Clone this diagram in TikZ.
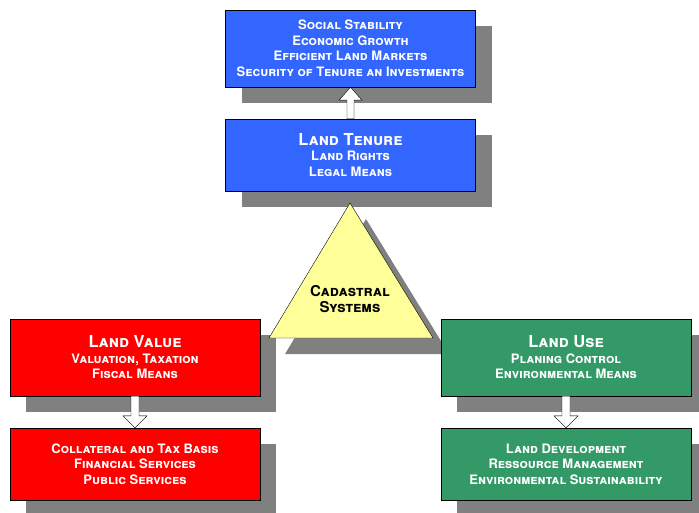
\documentclass[tikz,border=0pt]{standalone}
\usepackage{fontspec}
\setmainfont{TeX Gyre Heros}
\usetikzlibrary{shadows,calc,backgrounds}

\definecolor{tenureblue}{RGB}{51,102,255}
\definecolor{valuered}{RGB}{255,0,0}
\definecolor{usegreen}{RGB}{51,153,102}
\definecolor{cadyellow}{RGB}{255,255,153}
\definecolor{shadowgray}{RGB}{128,128,128}

\newcommand{\boxtitle}[1]{{\fontsize{16.5}{16}\selectfont #1}}

\begin{document}
\begin{tikzpicture}[x=1pt, y=-1pt,
    box/.style={rectangle, draw=black, minimum width=250pt, text=white, align=center,
      font=\bfseries\scshape\fontsize{13}{15.5}\selectfont, inner sep=0pt,
      drop shadow={shadow xshift=16pt, shadow yshift=-16pt, fill=shadowgray, opacity=1}},
    hollow/.style={draw=black, fill=white},
    hollowshadow/.style={fill=shadowgray}]

    \useasboundingbox (0,0) rectangle (699,513);

    \node[box, fill=tenureblue, minimum height=77pt] (goals) at (350.5, 48.5)
        {Social Stability\\ Economic Growth\\ Efficient Land Markets\\ Security of Tenure an Investments};
    \node[box, fill=tenureblue, minimum height=72pt] (tenure) at (350.5, 155)
        {\boxtitle{Land Tenure}\\ Land Rights\\ Legal Means};
    \node[box, fill=valuered, minimum height=77pt] (value) at (135, 357.5)
        {\boxtitle{Land Value}\\ Valuation, Taxation\\ Fiscal Means};
    \node[box, fill=valuered, minimum height=72pt] (collateral) at (135, 464)
        {Collateral and Tax Basis\\ Financial Services\\ Public Services};

    % cadastral triangle
    \coordinate (apex) at (350, 203);
    \coordinate (baseL) at (269, 338);
    \coordinate (baseR) at (433, 338);
    \fill[shadowgray] ([shift={(16,16)}]apex) -- ([shift={(16,16)}]baseL) -- ([shift={(16,16)}]baseR) -- cycle;
    \draw[fill=cadyellow] (apex) -- (baseL) -- (baseR) -- cycle;
    \node[align=center, font=\bfseries\scshape\fontsize{15}{15.5}\selectfont] (cadastral) at (350, 299)
        {Cadastral\\ Systems};

    \node[box, fill=usegreen, minimum height=77pt] (use) at (566, 357.5)
        {\boxtitle{Land Use}\\ Planing Control\\ Environmental Means};
    \node[box, fill=usegreen, minimum height=72pt] (development) at (566, 464)
        {Land Development\\ Ressource Management\\ Environmental Sustainability};

    % shadows of the block arrows, behind the boxes
    \begin{scope}[on background layer]
    \fill[hollowshadow, shift={(16,16)}] ($(tenure.north)+(-3.5,0)$) -- ($(goals.south)+(-3.5,13)$) -- ($(goals.south)+(-11.5,13)$)
        -- (goals.south) -- ($(goals.south)+(11.5,13)$) -- ($(goals.south)+(3.5,13)$) -- ($(tenure.north)+(3.5,0)$) -- cycle;
    \fill[hollowshadow, shift={(16,16)}] ($(value.south)+(-4,0)$) -- ($(collateral.north)+(-4,-12)$) -- ($(collateral.north)+(-12,-12)$)
        -- (collateral.north) -- ($(collateral.north)+(12,-12)$) -- ($(collateral.north)+(4,-12)$) -- ($(value.south)+(4,0)$) -- cycle;
    \fill[hollowshadow, shift={(16,16)}] ($(use.south)+(-4,0)$) -- ($(development.north)+(-4,-12)$) -- ($(development.north)+(-12,-12)$)
        -- (development.north) -- ($(development.north)+(12,-12)$) -- ($(development.north)+(4,-12)$) -- ($(use.south)+(4,0)$) -- cycle;
    \end{scope}

    % block arrows
    \draw[hollow] ($(tenure.north)+(-3.5,0)$) -- ($(goals.south)+(-3.5,13)$) -- ($(goals.south)+(-11.5,13)$)
        -- (goals.south) -- ($(goals.south)+(11.5,13)$) -- ($(goals.south)+(3.5,13)$) -- ($(tenure.north)+(3.5,0)$) -- cycle;
    \draw[hollow] ($(value.south)+(-4,0)$) -- ($(collateral.north)+(-4,-12)$) -- ($(collateral.north)+(-12,-12)$)
        -- (collateral.north) -- ($(collateral.north)+(12,-12)$) -- ($(collateral.north)+(4,-12)$) -- ($(value.south)+(4,0)$) -- cycle;
    \draw[hollow] ($(use.south)+(-4,0)$) -- ($(development.north)+(-4,-12)$) -- ($(development.north)+(-12,-12)$)
        -- (development.north) -- ($(development.north)+(12,-12)$) -- ($(development.north)+(4,-12)$) -- ($(use.south)+(4,0)$) -- cycle;
\end{tikzpicture}
\end{document}
